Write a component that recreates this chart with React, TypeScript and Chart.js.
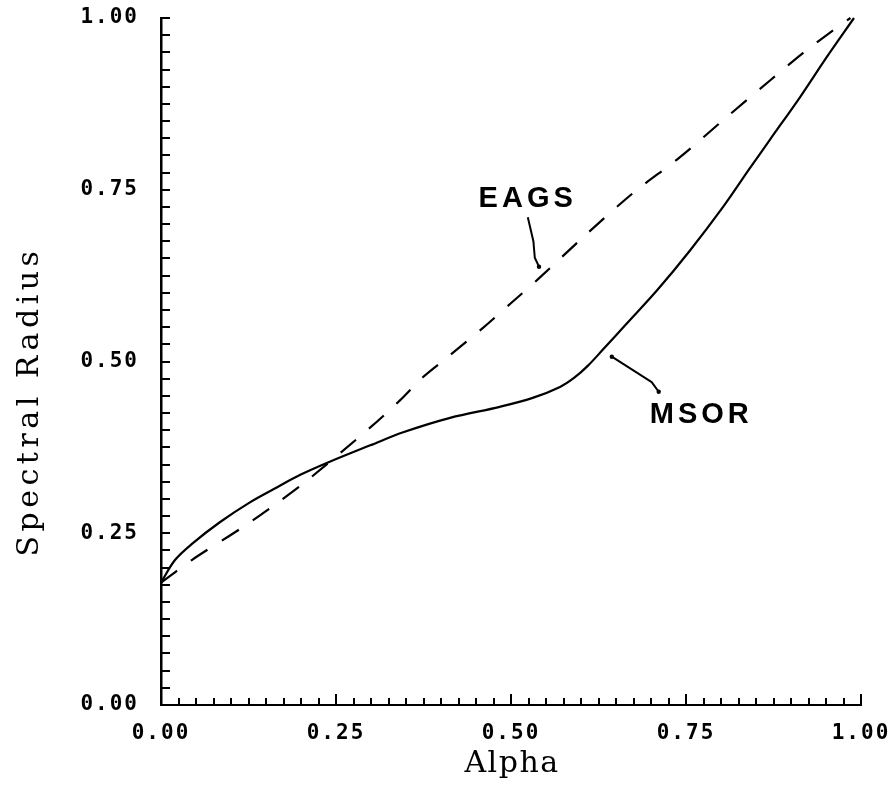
import React, { useEffect, useRef } from 'react';
import { Chart, registerables } from 'chart.js';

Chart.register(...registerables);

// ---- data ----
const msorAlpha = [0.0, 0.02, 0.046, 0.084, 0.127, 0.166, 0.199, 0.241, 0.299, 0.346, 0.413, 0.484, 0.531, 0.57, 0.59, 0.61, 0.631, 0.666, 0.709, 0.756, 0.803, 0.841, 0.87, 0.913, 0.951, 0.99];
const msorRadius = [0.178, 0.211, 0.236, 0.266, 0.295, 0.317, 0.335, 0.354, 0.378, 0.397, 0.418, 0.434, 0.447, 0.463, 0.476, 0.494, 0.517, 0.556, 0.604, 0.662, 0.725, 0.781, 0.823, 0.885, 0.943, 1.0];

const eagsAlpha = [0.0, 0.044, 0.117, 0.166, 0.209, 0.299, 0.341, 0.374, 0.409, 0.46, 0.499, 0.541, 0.6, 0.674, 0.741, 0.805, 0.87, 0.917, 0.964, 0.985];
const eagsRadius = [0.178, 0.211, 0.259, 0.294, 0.327, 0.404, 0.443, 0.477, 0.506, 0.549, 0.584, 0.622, 0.678, 0.745, 0.797, 0.853, 0.909, 0.949, 0.985, 1.0];

const tickStep = 0.025;
const majorStep = 0.25;
const xTitle = 'Alpha';
const yTitle = 'Spectral Radius';

const curveLabels = ['EAGS', 'MSOR'];
const curveLabelAlpha = [0.521, 0.769];
const curveLabelRadius = [0.725, 0.41];

const eagsPointerAlpha = [0.524, 0.532, 0.534, 0.54];
const eagsPointerRadius = [0.71, 0.675, 0.651, 0.638];
const msorPointerAlpha = [0.644, 0.701, 0.711];
const msorPointerRadius = [0.507, 0.47, 0.456];

const isMajor = (v: number) => Math.abs(v / majorStep - Math.round(v / majorStep)) < 1e-6;

const inkPlugin = {
  id: 'ink',
  beforeDraw(chart: any) {
    (chart.ctx as any).letterSpacing = '2px';
  },
  afterDraw(chart: any) {
    const ctx = chart.ctx as CanvasRenderingContext2D;
    const xs = chart.scales.x;
    const ys = chart.scales.y;
    const { left, top, bottom } = chart.chartArea;
    ctx.save();
    ctx.strokeStyle = '#000';
    ctx.fillStyle = '#000';
    ctx.lineWidth = 2;

    // inward tick marks
    ys.ticks.forEach((t: any) => {
      const py = Math.round(ys.getPixelForValue(t.value));
      ctx.beginPath();
      ctx.moveTo(left, py);
      ctx.lineTo(left + 9, py);
      ctx.stroke();
    });
    xs.ticks.forEach((t: any) => {
      const px = Math.round(xs.getPixelForValue(t.value));
      ctx.beginPath();
      ctx.moveTo(px, bottom);
      ctx.lineTo(px, bottom - (isMajor(t.value) ? 11 : 7));
      ctx.stroke();
    });

    // pointers
    const drawPointer = (ax: number[], ry: number[]) => {
      ctx.beginPath();
      ax.forEach((a, i) => {
        const px = xs.getPixelForValue(a);
        const py = ys.getPixelForValue(ry[i]);
        if (i === 0) ctx.moveTo(px, py);
        else ctx.lineTo(px, py);
      });
      ctx.lineWidth = 2;
      ctx.lineJoin = 'round';
      ctx.stroke();
      const ex = xs.getPixelForValue(ax[ax.length - 1]);
      const ey = ys.getPixelForValue(ry[ry.length - 1]);
      ctx.beginPath();
      ctx.arc(ex, ey, 2.2, 0, Math.PI * 2);
      ctx.fill();
    };
    drawPointer(eagsPointerAlpha, eagsPointerRadius);
    const mx0 = xs.getPixelForValue(msorPointerAlpha[0]);
    const my0 = ys.getPixelForValue(msorPointerRadius[0]);
    drawPointer(msorPointerAlpha, msorPointerRadius);
    ctx.beginPath();
    ctx.arc(mx0, my0, 2.2, 0, Math.PI * 2);
    ctx.fill();

    // curve labels
    ctx.font = 'bold 29px "Liberation Sans", sans-serif';
    (ctx as any).letterSpacing = '4px';
    ctx.textAlign = 'center';
    ctx.textBaseline = 'alphabetic';
    curveLabels.forEach((s, i) => {
      ctx.fillText(s, xs.getPixelForValue(curveLabelAlpha[i]) + 2, ys.getPixelForValue(curveLabelRadius[i]));
    });

    // axis titles
    ctx.font = '30px "DejaVu Serif", serif';
    (ctx as any).letterSpacing = '1.5px';
    ctx.fillText(xTitle, (xs.left + xs.right) / 2 + 1, 772);
    ctx.save();
    ctx.translate(38, (top + bottom) / 2 + 42);
    ctx.rotate(-Math.PI / 2);
    (ctx as any).letterSpacing = '4.5px';
    ctx.fillText(yTitle, 2, 0);
    ctx.restore();

    ctx.restore();
    (ctx as any).letterSpacing = '0px';
  },
};

export default function App() {
  const ref = useRef<HTMLCanvasElement | null>(null);
  useEffect(() => {
    if (!ref.current) return;
    const tickFont = { family: '"DejaVu Sans Mono", monospace', size: 21, weight: 'bold' as const };
    const label = (v: any) => (isMajor(Number(v)) ? Number(v).toFixed(2) : '');
    const chart = new Chart(ref.current, {
      type: 'line',
      data: {
        datasets: [
          {
            label: 'MSOR',
            data: msorAlpha.map((a, i) => ({ x: a, y: msorRadius[i] })),
            borderColor: '#000',
            borderWidth: 2.2,
            pointRadius: 0,
            tension: 0.35,
            fill: false,
            clip: false as any,
          },
          {
            label: 'EAGS',
            data: eagsAlpha.map((a, i) => ({ x: a, y: eagsRadius[i] })),
            borderColor: '#000',
            borderWidth: 2.2,
            borderDash: [20, 17],
            pointRadius: 0,
            tension: 0.3,
            fill: false,
            clip: false as any,
          },
        ],
      },
      options: {
        animation: false,
        responsive: false,
        events: [],
        layout: { padding: { top: 18, right: 34, left: 0, bottom: 0 } },
        plugins: { legend: { display: false }, tooltip: { enabled: false } },
        scales: {
          x: {
            type: 'linear',
            min: 0,
            max: 1,
            grid: { display: false, drawTicks: false },
            border: { display: true, color: '#000', width: 2 },
            ticks: { stepSize: tickStep, autoSkip: false, maxRotation: 0, padding: 16, color: '#000', font: tickFont, callback: label },
            afterFit: (s: any) => { s.height = 82; s.paddingLeft = 0; s.paddingRight = 0; },
          },
          y: {
            type: 'linear',
            min: 0,
            max: 1,
            grid: { display: false, drawTicks: false },
            border: { display: true, color: '#000', width: 2.5 },
            ticks: { stepSize: tickStep, autoSkip: false, padding: 22, color: '#000', font: tickFont, callback: label },
            afterFit: (s: any) => { s.width = 161; s.paddingTop = 0; s.paddingBottom = 0; },
          },
        },
      },
      plugins: [inkPlugin],
    });
    return () => chart.destroy();
  }, []);
  return (
    <div style={{ position: 'absolute', left: 0, top: 0, width: 895, height: 787, background: '#fff' }}>
      <canvas ref={ref} width={895} height={787} style={{ width: 895, height: 787, display: 'block' }} />
    </div>
  );
}
